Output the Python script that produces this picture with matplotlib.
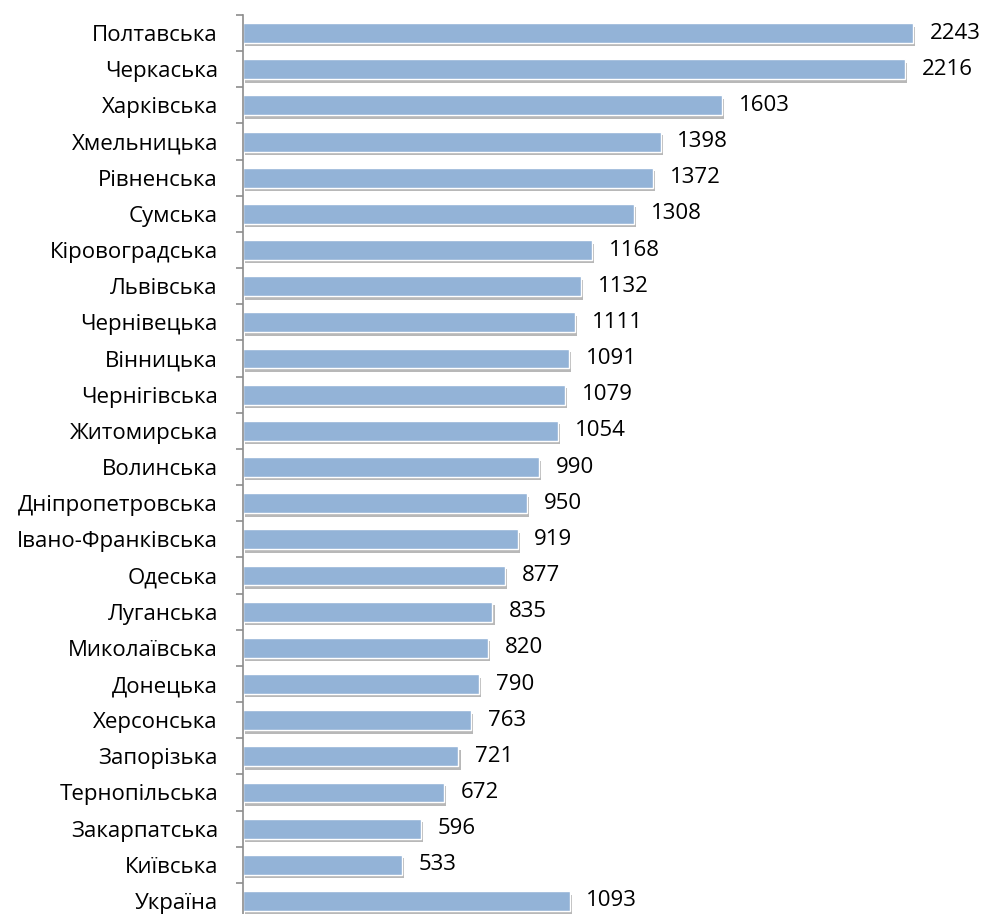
import matplotlib.pyplot as plt
from matplotlib import patheffects as pe
import numpy as np

regions = ['Полтавська', 'Черкаська', 'Харківська', 'Хмельницька',
           'Рівненська', 'Сумська', 'Кіровоградська', 'Львівська',
           'Чернівецька', 'Вінницька', 'Чернігівська', 'Житомирська',
           'Волинська', 'Дніпропетровська', 'Івано-Франківська', 'Одеська',
           'Луганська', 'Миколаївська', 'Донецька', 'Херсонська',
           'Запорізька', 'Тернопільська', 'Закарпатська', 'Київська',
           'Україна']
values = [2243, 2216, 1603, 1398, 1372, 1308, 1168, 1132, 1111, 1091,
          1079, 1054, 990, 950, 919, 877, 835, 820, 790, 763, 721, 672,
          596, 533, 1093]

plt.rcParams['font.family'] = ['Open Sans', 'DejaVu Sans']

fig = plt.figure(figsize=(9.84, 9.14), dpi=100)
ax = fig.add_axes([243 / 984, 0, 1 - 243 / 984, 1 - 15 / 914])

pos = np.arange(len(regions))
bars = ax.barh(
    pos,
    values,
    height=0.55,
    color='#93b3d7',
    edgecolor='white',
    linewidth=1.0)
for b in bars:
    b.set_path_effects([
        pe.SimplePatchShadow(offset=(1.5, -2.5), shadow_rgbFace='#7f7f7f',
                             alpha=0.55),
        pe.Normal()])

for y, v in zip(pos, values):
    ax.annotate(
        str(v),
        xy=(v, y),
        xytext=(12, 0),
        textcoords='offset points',
        va='center',
        ha='left',
        fontsize=16,
        color='black')

ax.set_xlim(0, 2480)
ax.set_ylim(24.36, -0.5)

ax.set_yticks(pos)
ax.set_yticklabels(regions)
ax.set_yticks(np.arange(len(regions)) - 0.5, minor=True)
ax.tick_params(axis='y', which='major', length=0, pad=18, labelsize=16)
ax.tick_params(axis='y', which='minor', length=5, width=1.2,
               color='#8c8c8c')
ax.set_xticks([])

for side in ['top', 'right', 'bottom']:
    ax.spines[side].set_visible(False)
ax.spines['left'].set_color('#8c8c8c')
ax.spines['left'].set_linewidth(1.2)

plt.savefig('out.png', dpi=100)
plt.close(fig)
